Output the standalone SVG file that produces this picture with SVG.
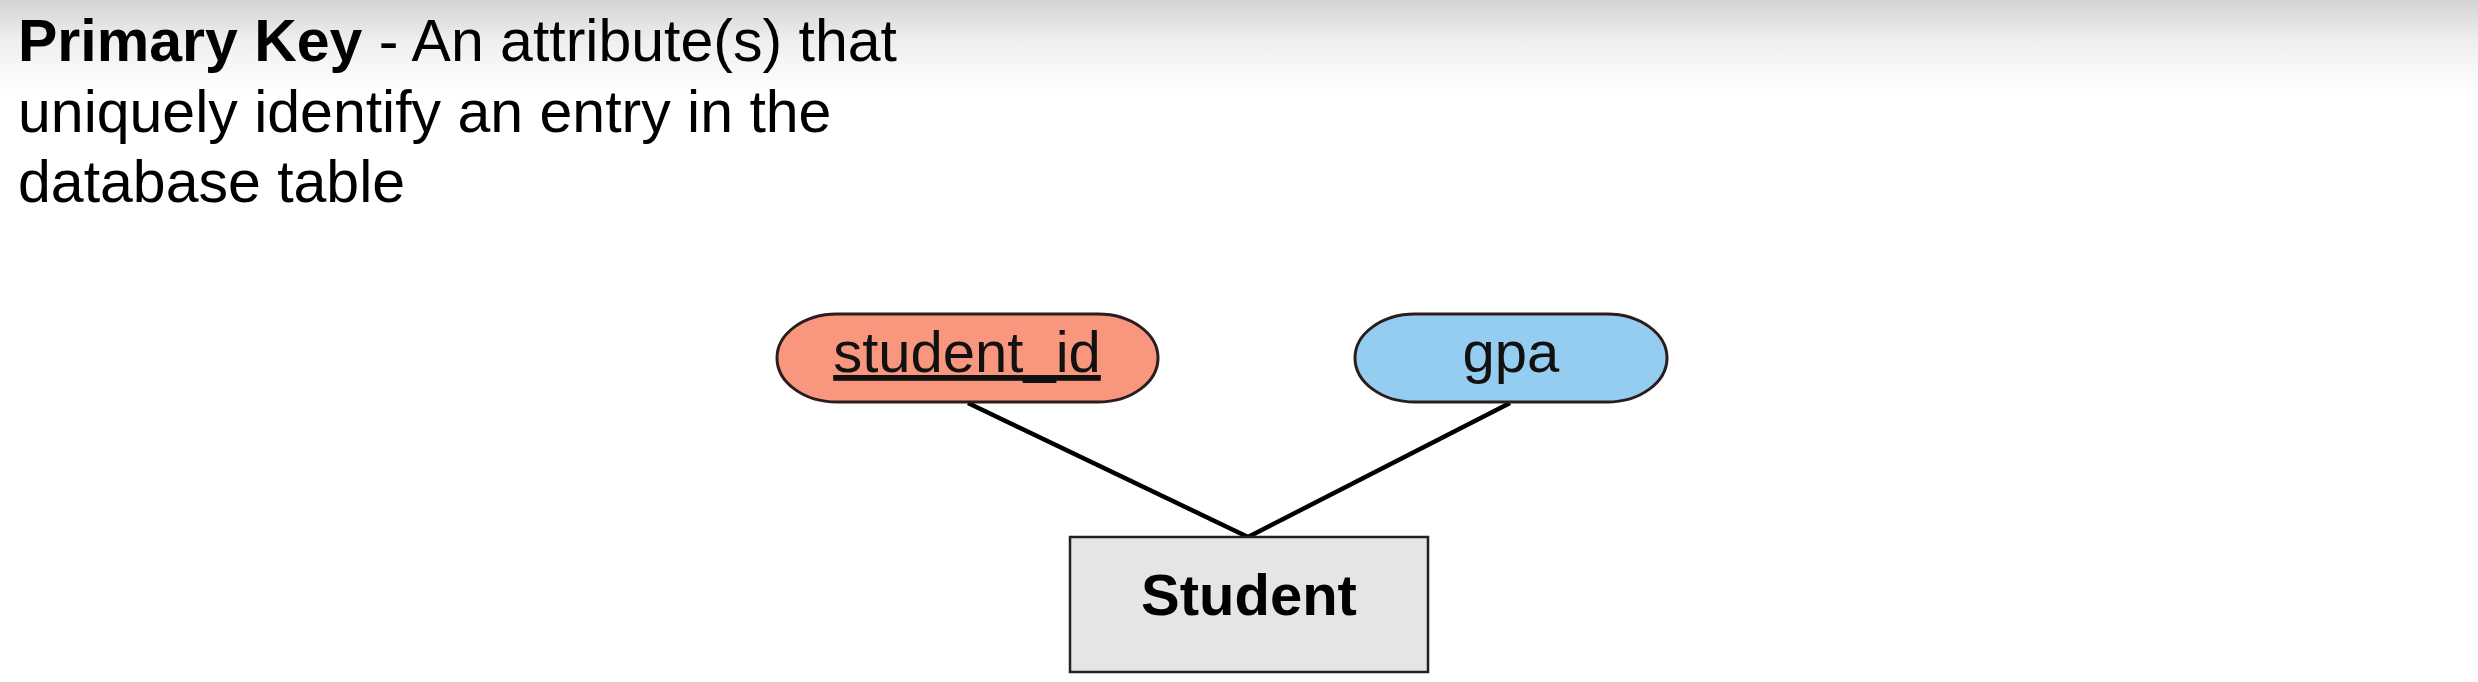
<svg xmlns="http://www.w3.org/2000/svg" width="2478" height="682" viewBox="0 0 2478 682">
  <defs>
    <linearGradient id="topShade" x1="0" y1="0" x2="0" y2="1">
      <stop offset="0" stop-color="#d3d3d3"/>
      <stop offset="0.45" stop-color="#efefef"/>
      <stop offset="1" stop-color="#ffffff"/>
    </linearGradient>
    <style>
      .hdr { font-family: "Liberation Sans", Arial, sans-serif; font-size: 59px; fill: #000; }
      .b { font-weight: bold; }
      .lbl { font-family: "Liberation Sans", Arial, sans-serif; font-size: 58px; fill: #111; text-anchor: middle; }
      .attr { stroke: #2b1d1d; stroke-width: 3; }
      .conn { stroke: #000; stroke-width: 4.5; fill: none; }
    </style>
  </defs>
  <rect x="0" y="0" width="2478" height="682" fill="#ffffff"/>
  <rect x="0" y="0" width="2478" height="92" fill="url(#topShade)"/>

  <g id="header">
    <text class="hdr" x="18" y="61"><tspan class="b">Primary Key</tspan> - An attribute(s) that</text>
    <text class="hdr" x="18" y="132">uniquely identify an entry in the</text>
    <text class="hdr" x="18" y="202">database table</text>
  </g>

  <g id="connectors">
    <line class="conn" x1="968" y1="403" x2="1248" y2="537"/>
    <line class="conn" x1="1510" y1="403" x2="1248" y2="537"/>
  </g>

  <g id="student_id">
    <path class="attr" d="M837,314 H1098 A60,44 0 0 1 1098,402 H837 A60,44 0 0 1 837,314 Z" fill="#f9967e"/>
    <text class="lbl" x="967" y="372" text-decoration="underline">student_id</text>
  </g>

  <g id="gpa">
    <path class="attr" d="M1415,314 H1607 A60,44 0 0 1 1607,402 H1415 A60,44 0 0 1 1415,314 Z" fill="#95cdf1"/>
    <text class="lbl" x="1511" y="372">gpa</text>
  </g>

  <g id="Student">
    <rect x="1070" y="537" width="358" height="135" fill="#e5e5e5" stroke="#222" stroke-width="2.5"/>
    <text class="lbl" x="1249" y="615" font-weight="bold" style="fill:#000">Student</text>
  </g>
</svg>
